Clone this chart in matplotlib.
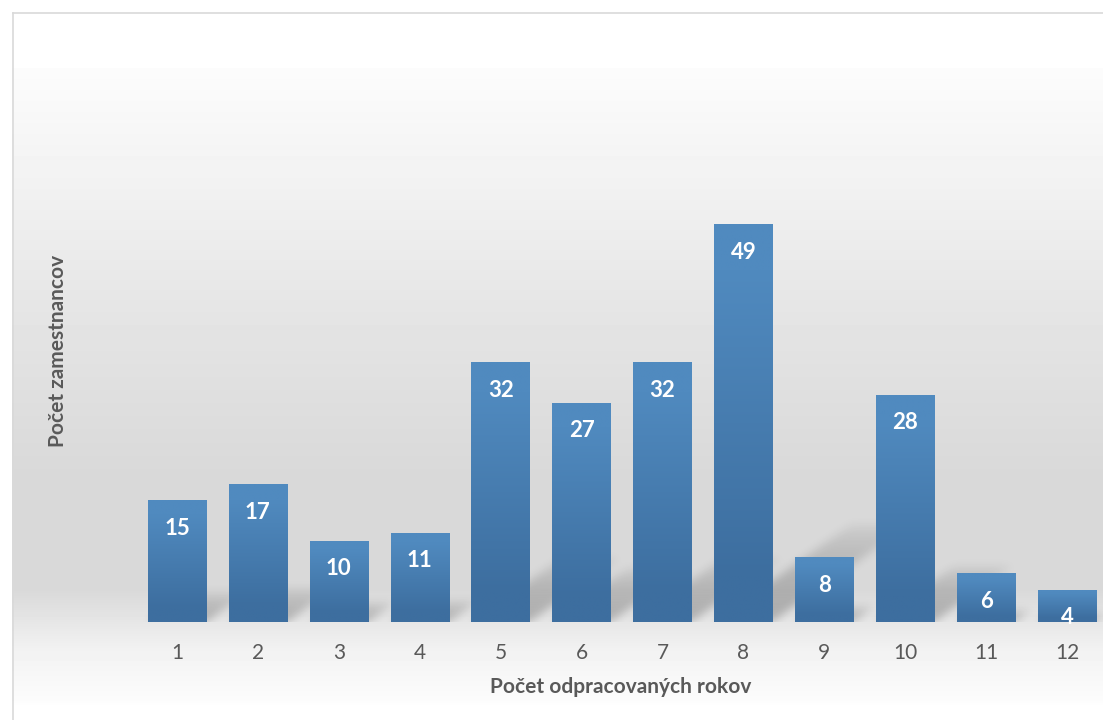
import numpy as np
import matplotlib
matplotlib.use('Agg')
import matplotlib.pyplot as plt

# data
years = [1, 2, 3, 4, 5, 6, 7, 8, 9, 10, 11, 12]
counts = [15, 17, 10, 11, 32, 27, 32, 49, 8, 28, 6, 4]
x_title = 'Počet odpracovaných rokov'
y_title = 'Počet zamestnancov'

plt.rcParams['font.family'] = ['Lato', 'DejaVu Sans']

W, H = 1103, 720
fig = plt.figure(figsize=(W / 100, H / 100), dpi=100)

# background: white top, grey middle, white again at the bottom
bg_ax = fig.add_axes([0, 0, 1, 1], zorder=-5)
stops_y = [0, 67, 68, 200, 300, 470, 590, 650, 700, 706, 720]
stops_v = [255, 255, 252, 240, 230, 217, 217, 242, 252, 255, 255]
col = np.interp(np.arange(H), stops_y, stops_v) / 255.0
bg = np.ones((H, W)) * col[:, None]
bg[:12, :] = 1.0
bg[:, :12] = 1.0
bg_ax.imshow(bg, cmap='gray', vmin=0, vmax=1, extent=[0, W, H, 0], aspect='auto',
             interpolation='nearest')
bg_ax.plot([12.5, 12.5], [12.5, H], color='#d9d9d9', lw=1.2)
bg_ax.plot([12.5, W], [12.5, 12.5], color='#d9d9d9', lw=1.2)
bg_ax.set_xlim(0, W)
bg_ax.set_ylim(H, 0)
bg_ax.axis('off')

# plot area (category band runs a bit past the right edge, like the original)
left, right, base, top = 136.5, 1107.5, 622, 135
ax = fig.add_axes([left / W, (H - base) / H, (right - left) / W, (base - top) / H])
ax.set_facecolor('none')
ax.set_xlim(0.5, 12.5)
ax.set_ylim(0, 60)

bar_w = 0.72
bars = ax.bar(years, counts, width=bar_w, color='#4679ad', zorder=3)

# perspective shadows behind the bars, blurred raster
px_x = (right - left) / 12.0
px_y = (base - top) / 60.0
sh_top = 16
nx, ny = int(right - left), int(sh_top * px_y)
gx = np.linspace(0.5, 12.5, nx)
gy = np.linspace(0, sh_top, ny)
GX, GY = np.meshgrid(gx, gy)
shade = np.zeros_like(GX)
for xv, h in zip(years, counts):
    dy = 0.25 * h
    dx = 0.35 * h * px_y / px_x
    t = GY / dy
    off = GX - dx * t
    inside = (t <= 1) & (off >= xv - bar_w / 2) & (off <= xv + bar_w / 2)
    shade = np.maximum(shade, np.where(inside, (1 - np.clip(t, 0, 1)) ** 0.5, 0))
k = np.exp(-0.5 * (np.arange(-12, 13) / 4.5) ** 2)
k /= k.sum()
shade = np.apply_along_axis(lambda r: np.convolve(r, k, mode='same'), 1, shade)
shade = np.apply_along_axis(lambda c: np.convolve(c, k, mode='same'), 0, shade)
rgba = np.zeros((ny, nx, 4))
rgba[..., 3] = 0.24 * shade
ax.imshow(rgba, extent=[0.5, 12.5, 0, sh_top], origin='lower', aspect='auto',
          zorder=1, interpolation='bilinear')

# vertical gradient inside each bar
grad = np.linspace(0, 1, 100)[:, None]
c_top = np.array([0x50, 0x8a, 0xbf]) / 255
c_bot = np.array([0x3d, 0x6e, 0x9f]) / 255
g = np.clip((1 - grad) * 1.3 - 0.15, 0, 1)
img = c_bot + (c_top - c_bot) * g[..., None]
img = np.repeat(img, 2, axis=1)
for b in bars:
    im = ax.imshow(img, extent=[b.get_x(), b.get_x() + b.get_width(), 0, b.get_height()],
                   origin='upper', aspect='auto', zorder=4, interpolation='bilinear')
    im.set_clip_path(b)

for xv, h in zip(years, counts):
    ax.annotate(str(h), (xv, h), xytext=(0, -28), textcoords='offset pixels',
                ha='center', va='center', color='white', fontsize=16,
                fontweight='bold', zorder=6)

ax.set_xticks(years)
ax.set_xticklabels([str(y) for y in years], fontsize=15, color='#595959')
ax.tick_params(axis='x', length=0, pad=15)
ax.set_yticks([])
for s in ax.spines.values():
    s.set_visible(False)

ax.set_xlabel(x_title, fontsize=15, fontweight='bold', color='#595959')
ax.xaxis.set_label_coords((621 - left) / (right - left), (base - 687) / (base - top))
ax.set_ylabel(y_title, fontsize=15, fontweight='bold', color='#595959')
ax.yaxis.set_label_coords((58 - left) / (right - left), (base - 351) / (base - top))
ax.xaxis.label.set_va('center')
ax.yaxis.label.set_va('center')

fig.savefig('out.png', dpi=100)
